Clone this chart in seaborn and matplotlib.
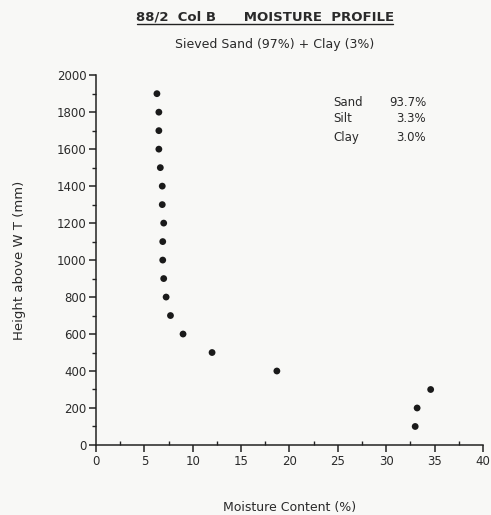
import matplotlib
matplotlib.use("Agg")
import matplotlib.pyplot as plt
import seaborn as sns
import pandas as pd
from matplotlib.lines import Line2D
from matplotlib.ticker import MultipleLocator

moisture = [6.3, 6.5, 6.5, 6.5, 6.65, 6.85, 6.85, 7.0, 6.9, 6.9, 7.0, 7.25, 7.7, 9.0, 12.0, 18.7, 34.6, 33.2, 33.0]
height = [1900, 1800, 1700, 1600, 1500, 1400, 1300, 1200, 1100, 1000, 900, 800, 700, 600, 500, 400, 300, 200, 100]
comp_labels = ["Sand", "Silt", "Clay"]
comp_values = ["93.7%", "3.3%", "3.0%"]

df = pd.DataFrame({"moisture": moisture, "height": height})

sns.set_theme(style="ticks")
plt.rcParams["font.family"] = ["DejaVu Sans"]
bg = "#f8f8f6"
tc = "#2a2a2a"
fig = plt.figure(figsize=(4.91, 5.15), dpi=100, facecolor=bg)
ax = fig.add_axes([0.1955, 0.136, 0.788, 0.718], facecolor=bg)

sns.scatterplot(data=df, x="moisture", y="height", ax=ax, color="#1a1a1a",
                s=24, edgecolor="none", legend=False)

ax.set_xlim(0, 40)
ax.set_ylim(0, 2000)
ax.xaxis.set_major_locator(MultipleLocator(5))
ax.xaxis.set_minor_locator(MultipleLocator(2.5))
ax.yaxis.set_major_locator(MultipleLocator(200))
ax.yaxis.set_minor_locator(MultipleLocator(100))
sns.despine(ax=ax)
for sp in ["left", "bottom"]:
    ax.spines[sp].set_color("#222222")
    ax.spines[sp].set_linewidth(1.1)
ax.tick_params(axis="both", which="major", length=5, width=1.1, color="#222222",
               labelsize=8.5, labelcolor=tc, pad=2)
ax.tick_params(axis="x", which="minor", length=3, width=1, direction="in", color="#222222")
ax.tick_params(axis="y", which="minor", length=3, width=1, direction="out", color="#222222")

ax.set_xlabel("Moisture Content (%)", fontsize=9, color=tc, labelpad=24)
ax.set_ylabel("Height above W T (mm)", fontsize=9.5, color=tc, labelpad=22)

fig.text(0.540, 0.967, "88/2  Col B      MOISTURE  PROFILE", ha="center", va="center",
         fontsize=9.5, fontweight="bold", color=tc)
fig.add_artist(Line2D([0.279, 0.800], [0.953, 0.953], color="#222222", lw=1.0))
fig.text(0.560, 0.913, "Sieved Sand (97%) + Clay (3%)", ha="center", va="center",
         fontsize=9, color=tc)

ys = [0.800, 0.769, 0.733]
for lab, val, yy in zip(comp_labels, comp_values, ys):
    fig.text(0.678, yy, lab, ha="left", va="center", fontsize=8.5, color=tc)
    fig.text(0.868, yy, val, ha="right", va="center", fontsize=8.5, color=tc)

fig.savefig("out.png", dpi=100, facecolor=bg)
